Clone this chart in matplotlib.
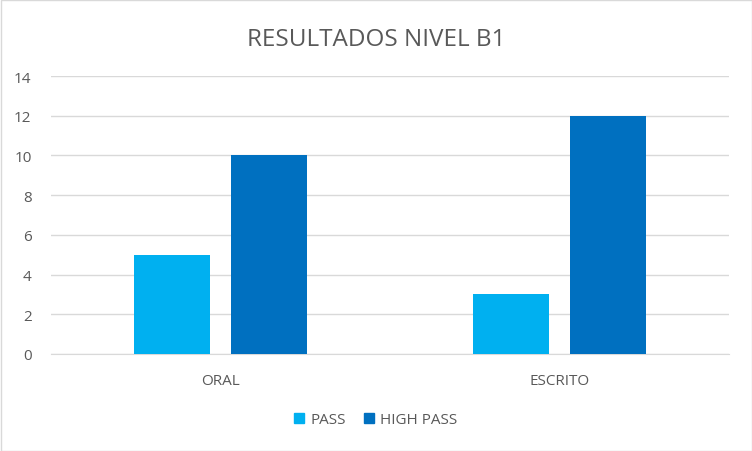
import matplotlib
matplotlib.use("Agg")
import matplotlib.pyplot as plt
import numpy as np
from matplotlib.patches import Patch

plt.rcParams['font.family'] = ['Open Sans', 'DejaVu Sans']

categories = ["ORAL", "ESCRITO"]
series_names = ["PASS", "HIGH PASS"]
pass_vals = [5, 3]
high_pass_vals = [10, 12]
yticks = [0, 2, 4, 6, 8, 10, 12, 14]

c_pass = "#00B0F0"
c_high = "#0070C0"
txt = "#595959"

fig = plt.figure(figsize=(7.52, 4.52), dpi=100)
fig.patch.set_facecolor("white")
W, H = 752, 452
ax = fig.add_axes([51 / W, 1 - 355 / H, 678 / W, (355 - 77) / H])

x = np.arange(len(categories))
bw = 0.224
off = 0.143
ax.bar(x - off, pass_vals, bw, color=c_pass, zorder=3, label=series_names[0])
ax.bar(x + off, high_pass_vals, bw, color=c_high, zorder=3, label=series_names[1])

ax.set_xlim(-0.5, 1.5)
ax.set_ylim(0, 14)
ax.set_yticks(yticks)
ax.set_yticklabels([str(v) for v in yticks])
ax.set_xticks(x)
ax.set_xticklabels(categories)
ax.grid(axis="y", color="#D9D9D9", linewidth=1, zorder=0)
for s in ["top", "right", "left"]:
    ax.spines[s].set_visible(False)
ax.spines["bottom"].set_color("#D9D9D9")
ax.tick_params(axis="both", length=0, colors=txt, labelsize=11)
ax.tick_params(axis="y", pad=14)
ax.tick_params(axis="x", pad=14)

fig.text(0.5, 1 - 40 / H, "RESULTADOS NIVEL B1", ha="center", va="center",
         fontsize=17.5, color=txt)

handles = [Patch(color=c_pass), Patch(color=c_high)]
fig.legend(handles, series_names, loc="center", bbox_to_anchor=(0.5, 1 - 421 / H),
           ncol=2, frameon=False, fontsize=11, labelcolor=txt,
           handlelength=0.65, handleheight=0.65, handletextpad=0.4, columnspacing=1.2)

border = plt.Rectangle((0.5 / W, 0.5 / H), 1 - 1 / W, 1 - 1 / H, transform=fig.transFigure,
                       fill=False, edgecolor="#D9D9D9", linewidth=1)
fig.add_artist(border)

fig.savefig("out.png", dpi=100)
